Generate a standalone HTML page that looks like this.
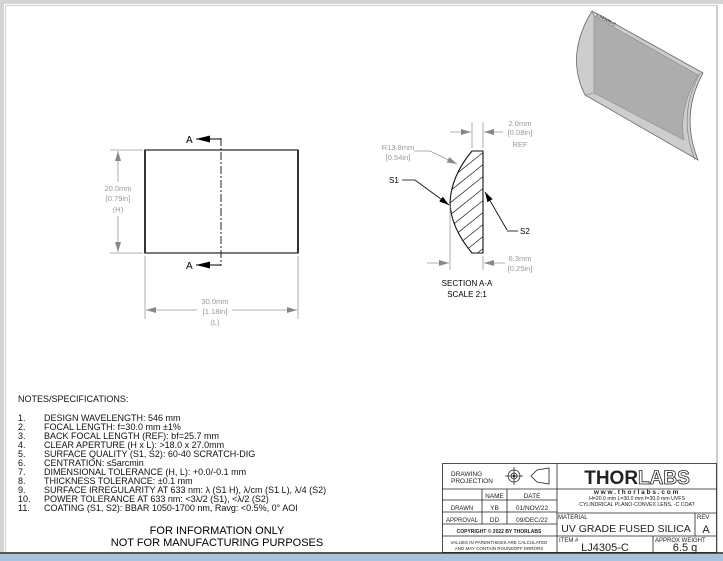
<!DOCTYPE html>
<html><head><meta charset="utf-8"><style>
html,body{margin:0;padding:0;background:#fff;}
svg{display:block;font-family:"Liberation Sans",sans-serif;}
</style></head><body>
<svg width="723" height="561" viewBox="0 0 723 561" xmlns="http://www.w3.org/2000/svg">
<defs>
<marker id="ah" markerWidth="10" markerHeight="6" refX="10" refY="3" orient="auto" markerUnits="userSpaceOnUse"><path d="M0,0 L10,3 L0,6 z" fill="#888"/></marker>
<marker id="ak" markerWidth="10" markerHeight="6" refX="10" refY="3" orient="auto" markerUnits="userSpaceOnUse"><path d="M0,0 L10,3 L0,6 z" fill="#000"/></marker>
<marker id="aA" markerWidth="14" markerHeight="7" refX="14" refY="3.5" orient="auto" markerUnits="userSpaceOnUse"><path d="M0,0 L14,3.5 L0,7 z" fill="#000"/></marker>
</defs>
<rect width="723" height="561" fill="#fff"/>
<rect x="0" y="0" width="723" height="4" fill="#d4d4d4"/>
<rect x="0" y="0" width="4" height="561" fill="#d4d4d4"/>
<line x1="5.5" y1="5.5" x2="717" y2="5.5" stroke="#cfcfcf" stroke-width="1"/>
<line x1="5.5" y1="5.5" x2="5.5" y2="553" stroke="#cfcfcf" stroke-width="1"/>
<line x1="717" y1="5" x2="717" y2="553" stroke="#bbb" stroke-width="1.5"/>
<rect x="0" y="552" width="723" height="2" fill="#555"/>
<rect x="0" y="554" width="723" height="7" fill="#a9c2dc"/>

<!-- 3D render -->
<path d="M592,11 L703,73 Q680,115 698,160 L585,95 Q565,55 592,11 Z" fill="#cdcdcd" stroke="#666" stroke-width="0.8"/>
<path d="M594,16 L698,75 Q678,110 684,140 L594,93 Z" fill="#adadad" stroke="#888" stroke-width="0.6"/>
<path d="M703,73 Q680,115 698,160" fill="none" stroke="#777" stroke-width="0.6" transform="translate(-3,0)"/>
<line x1="594" y1="16" x2="592" y2="11" stroke="#777" stroke-width="0.6"/>
<line x1="594" y1="93" x2="585" y2="95" stroke="#777" stroke-width="0.6"/>
<text x="596" y="16" font-size="5" fill="#333" transform="rotate(29 596 16)">LJ4305-C</text>

<!-- front view -->
<rect x="145" y="150" width="153" height="103" fill="none" stroke="#222" stroke-width="1.2"/>
<line x1="145" y1="150" x2="145" y2="253" stroke="#333" stroke-width="2"/>
<line x1="298" y1="150" x2="298" y2="253" stroke="#333" stroke-width="2"/>
<polyline points="221,138 221,266" fill="none" stroke="#222" stroke-width="1" stroke-dasharray="8,2,2,2"/>
<line x1="221" y1="139" x2="196" y2="139" stroke="#000" stroke-width="1" marker-end="url(#aA)"/>
<line x1="221" y1="265" x2="196" y2="265" stroke="#000" stroke-width="1" marker-end="url(#aA)"/>
<text x="186" y="143" font-size="10">A</text>
<text x="186" y="269" font-size="10">A</text>
<g stroke="#999" stroke-width="0.8" fill="none">
<line x1="110" y1="150" x2="143" y2="150"/><line x1="110" y1="253" x2="143" y2="253"/>
<line x1="118" y1="182" x2="118" y2="151" marker-end="url(#ah)"/>
<line x1="118" y1="216" x2="118" y2="252" marker-end="url(#ah)"/>
<line x1="145" y1="256" x2="145" y2="319"/><line x1="298" y1="256" x2="298" y2="319"/>
<line x1="197" y1="310" x2="146" y2="310" marker-end="url(#ah)"/>
<line x1="232" y1="310" x2="297" y2="310" marker-end="url(#ah)"/>
</g>
<g font-size="7.5" fill="#999" text-anchor="middle">
<text x="118" y="191">20.0mm</text><text x="118" y="201">[0.79in]</text><text x="118" y="212">(H)</text>
<text x="215" y="304">30.0mm</text><text x="215" y="314">[1.18in]</text><text x="215" y="325">(L)</text>
</g>

<!-- section -->
<defs><clipPath id="sc"><path d="M472,151 L483,151 L483,253 L472,253 Q451,228 450,203 Q451,176 472,151 Z"/></clipPath></defs>
<g clip-path="url(#sc)" stroke="#222" stroke-width="0.7">
<line x1="440" y1="175" x2="490" y2="135"/><line x1="440" y1="187" x2="490" y2="147"/>
<line x1="440" y1="199" x2="490" y2="159"/><line x1="440" y1="211" x2="490" y2="171"/>
<line x1="440" y1="223" x2="490" y2="183"/><line x1="440" y1="235" x2="490" y2="195"/>
<line x1="440" y1="247" x2="490" y2="207"/><line x1="440" y1="259" x2="490" y2="219"/>
<line x1="440" y1="271" x2="490" y2="231"/><line x1="440" y1="283" x2="490" y2="243"/>
<line x1="440" y1="295" x2="490" y2="255"/>
</g>
<path d="M472,151 L483,151 L483,253 L472,253 Q451,228 450,203 Q451,176 472,151 Z" fill="none" stroke="#111" stroke-width="1.1"/>
<g stroke="#999" stroke-width="0.8" fill="none">
<line x1="472" y1="148" x2="472" y2="122"/><line x1="483" y1="148" x2="483" y2="122"/>
<line x1="450" y1="206" x2="450" y2="270"/><line x1="483" y1="256" x2="483" y2="270"/>
<line x1="450" y1="132" x2="471" y2="132" marker-end="url(#ah)"/>
<line x1="503" y1="132" x2="484" y2="132" marker-end="url(#ah)"/>
<line x1="427" y1="263" x2="449" y2="263" marker-end="url(#ah)"/>
<line x1="505" y1="263" x2="484" y2="263" marker-end="url(#ah)"/>
<polyline points="414,151 430,151 457,164" marker-end="url(#ah)"/>
</g>
<g stroke="#000" stroke-width="0.8" fill="none">
<polyline points="402,180 415,180 449,205" marker-end="url(#ak)"/>
<line x1="507" y1="230" x2="485" y2="192" marker-end="url(#ak)"/>
<line x1="507" y1="231" x2="518" y2="231"/>
</g>
<g font-size="7.5" fill="#999" text-anchor="middle">
<text x="398" y="150">R13.8mm</text><text x="398" y="160">[0.54in]</text>
<text x="520" y="126">2.0mm</text><text x="520" y="135">[0.08in]</text><text x="520" y="147">REF</text>
<text x="520" y="261">6.3mm</text><text x="520" y="271">[0.25in]</text>
</g>
<text x="389" y="183" font-size="8">S1</text>
<text x="520" y="234" font-size="8">S2</text>
<text x="467" y="286" font-size="8" text-anchor="middle">SECTION A-A</text>
<text x="467" y="297" font-size="8" text-anchor="middle">SCALE 2:1</text>

<!-- notes -->
<g font-size="9" fill="#111">
<text x="18" y="402">NOTES/SPECIFICATIONS:</text>
<text x="18" y="421">1.</text><text x="44" y="421">DESIGN WAVELENGTH: 546 mm</text>
<text x="18" y="430">2.</text><text x="44" y="430">FOCAL LENGTH: f=30.0 mm ±1%</text>
<text x="18" y="439">3.</text><text x="44" y="439">BACK FOCAL LENGTH (REF): bf=25.7 mm</text>
<text x="18" y="448">4.</text><text x="44" y="448">CLEAR APERTURE (H x L): &gt;18.0 x 27.0mm</text>
<text x="18" y="457">5.</text><text x="44" y="457">SURFACE QUALITY (S1, S2): 60-40 SCRATCH-DIG</text>
<text x="18" y="466">6.</text><text x="44" y="466">CENTRATION: ≤5arcmin</text>
<text x="18" y="475">7.</text><text x="44" y="475">DIMENSIONAL TOLERANCE (H, L): +0.0/-0.1 mm</text>
<text x="18" y="484">8.</text><text x="44" y="484">THICKNESS TOLERANCE: ±0.1 mm</text>
<text x="18" y="493">9.</text><text x="44" y="493">SURFACE IRREGULARITY AT 633 nm: λ (S1 H), λ/cm (S1 L), λ/4 (S2)</text>
<text x="18" y="502">10.</text><text x="44" y="502">POWER TOLERANCE AT 633 nm: &lt;3λ/2 (S1), &lt;λ/2 (S2)</text>
<text x="18" y="511">11.</text><text x="44" y="511">COATING (S1, S2): BBAR 1050-1700 nm, Ravg: &lt;0.5%, 0° AOI</text>
</g>
<text x="217" y="534" font-size="11" text-anchor="middle">FOR INFORMATION ONLY</text>
<text x="217" y="546" font-size="11" text-anchor="middle">NOT FOR MANUFACTURING PURPOSES</text>

<!-- title block -->
<g stroke="#222" stroke-width="0.8" fill="none">
<rect x="442.5" y="463.5" width="274" height="89"/>
<line x1="557" y1="463" x2="557" y2="553"/>
<line x1="442" y1="489" x2="717" y2="489"/>
<line x1="442" y1="500" x2="557" y2="500"/>
<line x1="442" y1="512" x2="557" y2="512"/>
<line x1="442" y1="524" x2="557" y2="524"/>
<line x1="442" y1="536" x2="717" y2="536"/>
<line x1="557" y1="513" x2="717" y2="513"/>
<line x1="482" y1="489" x2="482" y2="524"/>
<line x1="507" y1="489" x2="507" y2="524"/>
<line x1="695" y1="513" x2="695" y2="536"/>
<line x1="653" y1="536" x2="653" y2="553"/>
<circle cx="514" cy="476" r="6"/><circle cx="514" cy="476" r="3"/>
<line x1="505" y1="476" x2="523" y2="476"/><line x1="514" y1="467" x2="514" y2="485"/>
<path d="M531,476 L537,470 L549,468 L549,484 L537,482 Z"/>
</g>
<circle cx="514" cy="476" r="1.3" fill="#222"/>
<g font-size="6.5" fill="#222">
<text x="451" y="476">DRAWING</text><text x="451" y="483">PROJECTION</text>
<text x="494.5" y="498" text-anchor="middle">NAME</text><text x="532" y="498" text-anchor="middle">DATE</text>
<text x="462" y="510" text-anchor="middle" font-size="6">DRAWN</text><text x="494.5" y="510" text-anchor="middle">YB</text><text x="532" y="510" text-anchor="middle">01/NOV/22</text>
<text x="462" y="522" text-anchor="middle" font-size="6">APPROVAL</text><text x="494.5" y="522" text-anchor="middle">DD</text><text x="532" y="522" text-anchor="middle">09/DEC/22</text>
<text x="499" y="533" text-anchor="middle" font-size="5" font-weight="bold">COPYRIGHT © 2022 BY THORLABS</text>
<text x="499" y="544" text-anchor="middle" font-size="4.5">VALUES IN PARENTHESIS ARE CALCULATED</text>
<text x="499" y="550" text-anchor="middle" font-size="4.5">AND MAY CONTAIN ROUNDOFF ERRORS</text>
<text x="637" y="500" text-anchor="middle" font-size="5.2">H=20.0 mm L=30.0 mm f=30.0 mm UVFS</text>
<text x="637" y="506" text-anchor="middle" font-size="5.2">CYLINDRICAL PLANO-CONVEX LENS, -C COAT</text>
<text x="558" y="519" font-size="6">MATERIAL</text>
<text x="697" y="519" font-size="6">REV</text>
<text x="559" y="542" font-size="6">ITEM #</text>
<text x="655" y="542" font-size="6">APPROX WEIGHT</text>
</g>
<text x="637" y="484" text-anchor="middle" font-size="19" font-weight="bold" fill="#222">THOR<tspan fill="#fff" stroke="#222" stroke-width="0.8">LABS</tspan></text>
<text x="637" y="494" text-anchor="middle" font-size="6.5" font-weight="bold" letter-spacing="1.8" fill="#222">www.thorlabs.com</text>
<text x="626" y="532" text-anchor="middle" font-size="10.5" fill="#222">UV GRADE FUSED SILICA</text>
<text x="706" y="533" text-anchor="middle" font-size="11" fill="#222">A</text>
<text x="605" y="551" text-anchor="middle" font-size="11" fill="#222">LJ4305-C</text>
<text x="685" y="551" text-anchor="middle" font-size="11" fill="#222">6.5 g</text>
</svg>
</body></html>
